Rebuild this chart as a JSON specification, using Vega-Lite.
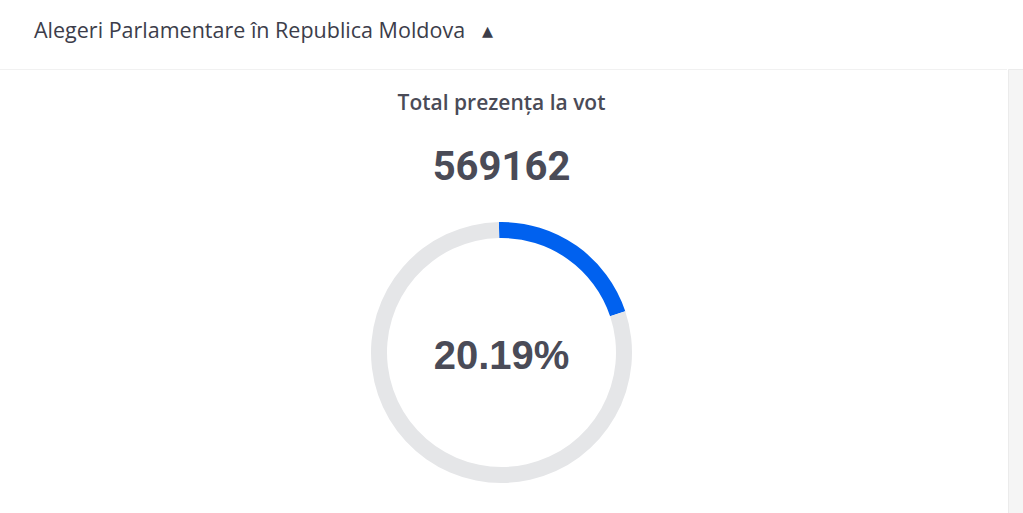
{
  "$schema": "https://vega.github.io/schema/vega-lite/v6.json",
  "background": "#ffffff",
  "padding": 0,
  "config": {
    "view": {"stroke": null},
    "concat": {"spacing": 0}
  },
  "datasets": {
    "turnout": [
      {"part": "Prezență la vot", "pct": 20.19, "order": 1, "label": "20.19%"},
      {"part": "Restul", "pct": 79.81, "order": 2, "label": ""}
    ]
  },
  "hconcat": [
    {
      "spacing": 23,
      "vconcat": [
        {
          "title": {
            "text": ["", "Alegeri Parlamentare în Republica Moldova\u00a0\u00a0\u00a0▴"],
            "lineHeight": 21,
            "anchor": "start",
            "dx": 34,
            "font": "Open Sans",
            "fontSize": 21.5,
            "fontWeight": "normal",
            "color": "#3c3d4a",
            "offset": 26.5
          },
          "width": 1007,
          "height": 1,
          "view": {"fill": "#f1f1f1", "stroke": null},
          "data": {"values": []},
          "mark": "rect",
          "encoding": {}
        },
        {
          "title": {
            "text": "Total prezența la vot",
            "subtitle": "569162",
            "anchor": "middle",
            "font": "Open Sans",
            "fontSize": 21,
            "fontWeight": 600,
            "color": "#4a4b57",
            "subtitleFont": "Roboto",
            "subtitleFontSize": 40,
            "subtitleFontWeight": "bold",
            "subtitleColor": "#4a4b57",
            "subtitlePadding": 34,
            "offset": 17
          },
          "width": 1003,
          "height": 295,
          "data": {"name": "turnout"},
          "layer": [
            {
              "mark": {"type": "arc", "outerRadius": 130.5, "innerRadius": 114.5},
              "encoding": {
                "theta": {"field": "pct", "type": "quantitative", "stack": true, "scale": {"range": [-0.02, 6.2632]}},
                "color": {"field": "part", "type": "nominal", "scale": {"domain": ["Prezență la vot", "Restul"], "range": ["#0061ef", "#e5e6e8"]}, "legend": null},
                "order": {"field": "order", "type": "quantitative"}
              }
            },
            {
              "transform": [{"filter": {"field": "order", "equal": 1}}],
              "mark": {"type": "text", "font": "Liberation Sans", "fontSize": 40, "fontWeight": "bold", "color": "#4a4b57", "dy": 4},
              "encoding": {"text": {"field": "label", "type": "nominal"}}
            }
          ]
        }
      ]
    },
    {
      "width": 16,
      "height": 513,
      "view": {"fill": "#f5f5f5", "stroke": "#ebebeb"},
      "data": {"values": []},
      "mark": "rect",
      "encoding": {}
    }
  ]
}
